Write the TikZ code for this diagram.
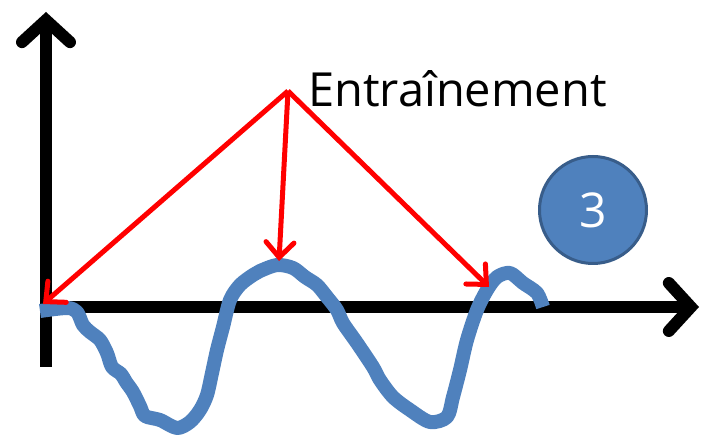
\documentclass[tikz,border=0pt]{standalone}
\usepackage{fontspec}
\setmainfont{Open Sans}
\usetikzlibrary{arrows.meta}
\definecolor{bleu}{RGB}{79, 129, 189}
\definecolor{bleuFonce}{RGB}{56, 93, 138}
\definecolor{rouge}{RGB}{255, 0, 0}

\begin{document}
\begin{tikzpicture}[
    x=1pt, y=-1pt,
    axe/.style={
        line width=12pt,
        -{Straight Barb[length=22pt, width=48pt, line cap=round]}
    },
    fleche/.style={
        rouge,
        line width=5pt,
        -{Straight Barb[length=15pt, width=28pt, line cap=round]}
    },
    courbe/.style={
        bleu,
        line width=14pt,
        line join=round
    },
    pastille/.style={
        circle,
        fill=bleu,
        draw=bleuFonce,
        line width=3pt,
        minimum size=107pt,
        text=white,
        font=\fontsize{48}{58}\selectfont
    }
]

\useasboundingbox (0,0) rectangle (713,438);

% =================================================
% AXES
% =================================================

\coordinate (origine) at (46,307);
\coordinate (basY) at (46,367);
\coordinate (hautY) at (46,12);
\coordinate (finX) at (699,307);

\draw[axe] (basY) -- (hautY);
\draw[axe] (origine) -- (finX);

% =================================================
% SIGNAL
% =================================================

\draw[courbe] plot[smooth, tension=0.5] coordinates {
    (40,311) (67,308) (77,312) (83,325) (90,332) (100,340)
    (107,353) (112,367) (121,374) (126,382) (133,392) (140,406)
    (145,416) (160,420) (177,428) (190,422) (200,410) (207,395)
    (212,373) (217,350) (223,327) (230,300) (240,285) (253,275)
    (260,271) (277,265) (293,268) (305,277) (317,285) (327,297)
    (337,310) (343,323) (357,343) (373,367) (380,380) (393,397)
    (410,410) (430,422) (447,417) (453,397) (460,370) (467,340)
    (477,310) (487,290) (497,277) (510,273) (523,283) (537,293)
    (543,307)
};

% =================================================
% ENTRAINEMENT
% =================================================

\node[anchor=base west, inner sep=0pt,
    font=\fontsize{47}{56}\selectfont
] (titre) at (308,107)
{Entraînement};

\coordinate (source) at (288,91);
\coordinate (cible1) at (43,304);
\coordinate (cible2) at (279,261);
\coordinate (cible3) at (489,287);

\draw[fleche] (source) -- (cible1);
\draw[fleche] (source) -- (cible2);
\draw[fleche] (source) -- (cible3);

% =================================================
% NUMERO
% =================================================

\node[pastille] (numero) at (593,210)
{3};

\end{tikzpicture}
\end{document}
